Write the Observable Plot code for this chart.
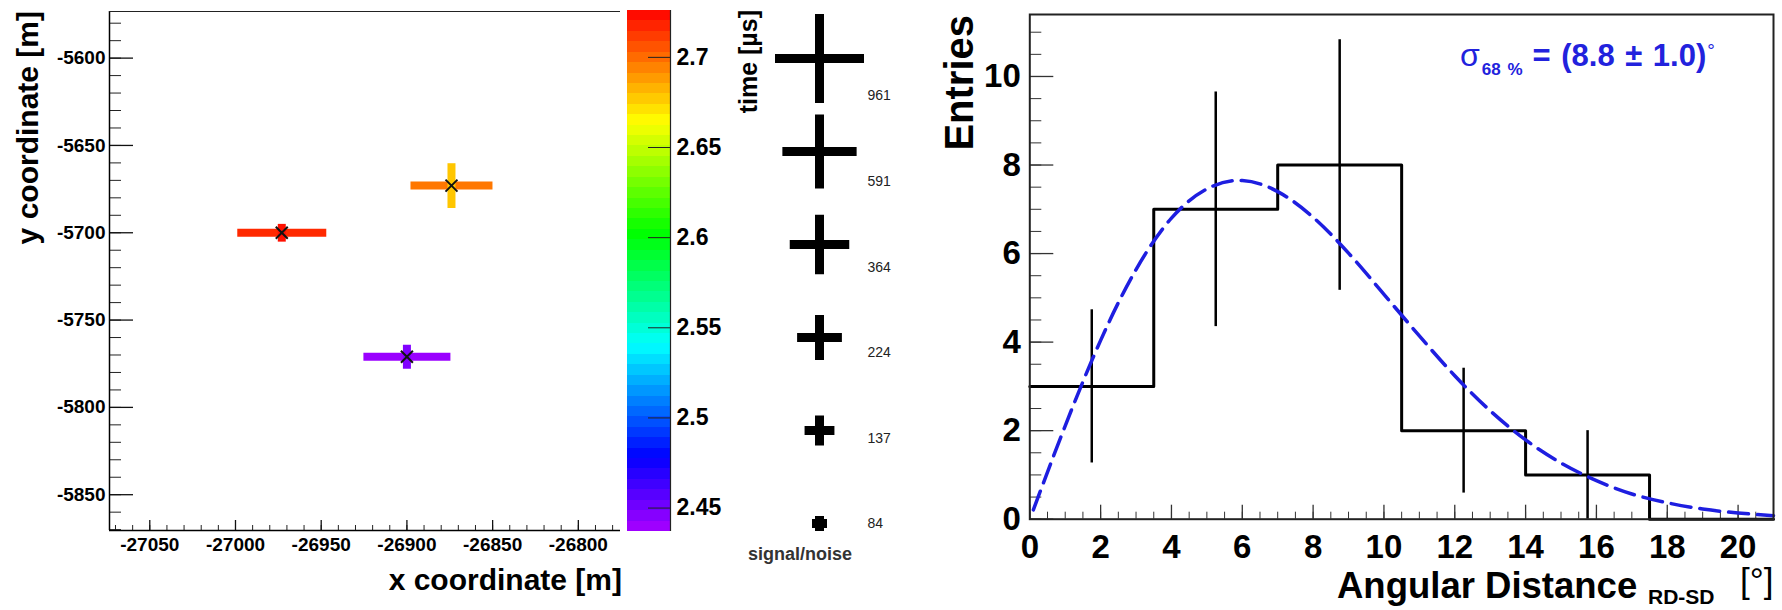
<!DOCTYPE html>
<html>
<head>
<meta charset="utf-8">
<script src="https://cdn.jsdelivr.net/npm/d3@7"></script>
<script src="https://cdn.jsdelivr.net/npm/@observablehq/plot@0.6"></script>
<style>
  html, body { margin: 0; padding: 0; background: #fff; }
  #chart { position: relative; width: 1782px; height: 610px; overflow: hidden; background: #fff;
           font-family: "Liberation Sans", Arial, Helvetica, sans-serif; }
  #chart svg { position: absolute; }
  .lbl { position: absolute; white-space: nowrap; line-height: 0.7; font-weight: bold; color: #000; }
</style>
</head>
<body>
<div id="chart"></div>
<script>
// ---------- radio stations on the ground (one entry per station) ----------
const stationX = [-26973, -26874, -26900];
const stationY = [-5700, -5673, -5771];
const ewSignalNoise = [961, 763, 900];   // east-west arm
const nsSignalNoise = [92, 224, 113];    // north-south arm
const ewTime = [2.716, 2.697, 2.441];    // µs
const nsTime = [2.722, 2.678, 2.447];

const mapXTicks = [-27050, -27000, -26950, -26900, -26850, -26800];
const mapYTicks = [-5850, -5800, -5750, -5700, -5650, -5600];
const timeTicks = [2.45, 2.5, 2.55, 2.6, 2.65, 2.7];
const legendSignalNoise = [961, 591, 364, 224, 137, 84];

// ---------- angular distance between RD and SD directions ----------
const binEdges = [0, 3.5, 7, 10.5, 14, 17.5, 21];
const binCounts = [3, 7, 8, 2, 1, 0];
const binErrors = [1.73, 2.65, 2.83, 1.41, 1.0, 0];
const fitX = [0.1, 1, 2, 3, 4, 5, 6, 7, 8, 9, 10, 11, 12, 13, 14, 15, 16, 17, 18, 19, 20, 21];
const fitY = [0.21, 2.11, 4.04, 5.64, 6.80, 7.46, 7.65, 7.40, 6.82, 6.01, 5.08, 4.14, 3.24, 2.45, 1.79, 1.27, 0.87, 0.57, 0.37, 0.23, 0.14, 0.08];
const histXTicks = [0, 2, 4, 6, 8, 10, 12, 14, 16, 18, 20];
const histYTicks = [0, 2, 4, 6, 8, 10];

// ---------- shared scales ----------
const mapXDomain = [-27073.5, -26775.4];
const mapYDomain = [-5870.5, -5573.3];
const timeDomain = [2.437, 2.726];
const histXDomain = [0, 21];
const histYDomain = [0, 11.4];
const rainbow = t => d3.hsl(280 * (1 - t), 1, 0.5).formatRgb();
const colorOpts = {type: "linear", domain: timeDomain, interpolate: rainbow};
const rOpts = {type: "log", domain: [84, 961], range: [7.5, 44.5]};
const FONT = '"Liberation Sans", Arial, Helvetica, sans-serif';
const svgStyle = {background: "transparent", maxWidth: "none", overflow: "visible", fontFamily: FONT};
const fmt = d => String(d);

// symbols: constant-thickness arms whose half-length is the dot radius
const armEW = {draw(ctx, size) { const r = Math.sqrt(size / Math.PI); ctx.moveTo(-r, 0); ctx.lineTo(r, 0); }};
const armNS = {draw(ctx, size) { const r = Math.sqrt(size / Math.PI); ctx.moveTo(0, -r); ctx.lineTo(0, r); }};
const armBoth = {draw(ctx, size) { armEW.draw(ctx, size); armNS.draw(ctx, size); }};

const chart = document.getElementById("chart");
function place(svg, left, top) {
  svg.style.left = left + "px";
  svg.style.top = top + "px";
  chart.appendChild(svg);
}
function addText(html, css) {
  const d = document.createElement("div");
  d.className = "lbl";
  d.innerHTML = html;
  Object.assign(d.style, css);
  chart.appendChild(d);
  return d;
}
// baseline -> top of a line-height 0.7 box
const topFor = (baseline, size) => (baseline - 0.6965 * size) + "px";
const rotated = (centerX, endY, size) => ({left: centerX + "px", top: endY + "px", fontSize: size + "px", lineHeight: "1",
  transformOrigin: "0 0", transform: "rotate(-90deg) translate(-100%, -50%)"});

// ---------- station map ----------
const stations = stationX.map((x, i) => ({x, y: stationY[i], ew: ewSignalNoise[i], ns: nsSignalNoise[i], ewTime: ewTime[i], nsTime: nsTime[i]}));
{
  const W = 640, H = 610, mL = 109, mR = 20, mT = 11, mB = 80;
  const fw = W - mL - mR, fh = H - mT - mB;
  const svg = Plot.plot({
    width: W, height: H, marginLeft: mL, marginRight: mR, marginTop: mT, marginBottom: mB,
    x: {domain: mapXDomain, axis: null}, y: {domain: mapYDomain, axis: null},
    color: colorOpts, r: rOpts, style: svgStyle,
    marks: [
      Plot.tickY(d3.range(-5870, mapYDomain[1], 10), {y: d => d, insetRight: fw - 12, stroke: "#222"}),
      Plot.tickY(mapYTicks, {y: d => d, insetRight: fw - 24, stroke: "#111", strokeWidth: 1.3}),
      Plot.tickX(d3.range(-27070, mapXDomain[1], 10), {x: d => d, insetTop: fh - 5, stroke: "#222"}),
      Plot.tickX(mapXTicks, {x: d => d, insetTop: fh - 10, stroke: "#111", strokeWidth: 1.3}),
      Plot.ruleX([mapXDomain[0]], {stroke: "#000", strokeWidth: 1.5}),
      Plot.ruleY([mapYDomain[0]], {stroke: "#000", strokeWidth: 1.5}),
      Plot.ruleY([mapYDomain[1]], {stroke: "#222", strokeWidth: 1}),
      Plot.dot(stations, {x: "x", y: "y", r: "ew", symbol: armEW, stroke: "ewTime", fill: "none", strokeWidth: 8}),
      Plot.dot(stations, {x: "x", y: "y", r: "ns", symbol: armNS, stroke: "nsTime", fill: "none", strokeWidth: 8}),
      Plot.dot(stations, {x: "x", y: "y", r: 5.5, symbol: "times", stroke: "#111", strokeWidth: 2}),
      Plot.text(mapXTicks, {x: d => d, text: fmt, frameAnchor: "bottom", lineAnchor: "top", dy: 7,
        fontSize: 19, fontWeight: "bold", fill: "#000"}),
      Plot.text(mapYTicks, {y: d => d, text: fmt, frameAnchor: "left", textAnchor: "end", dx: -4,
        fontSize: 19, fontWeight: "bold", fill: "#000"})
    ]
  });
  place(svg, 0, 0);
}

// ---------- time colour bar ----------
{
  const W = 140, H = 610, mL = 27, mR = 70, mT = 10, mB = 79;
  const fw = W - mL - mR;
  const nBands = 50;
  const step = (timeDomain[1] - timeDomain[0]) / nBands;
  const bands = d3.range(nBands).map(i => ({t0: timeDomain[0] + i * step, t1: timeDomain[0] + (i + 1) * step}));
  const svg = Plot.plot({
    width: W, height: H, marginLeft: mL, marginRight: mR, marginTop: mT, marginBottom: mB,
    x: {domain: [0, 1], axis: null}, y: {domain: timeDomain, axis: null},
    color: colorOpts, style: svgStyle,
    marks: [
      Plot.rect(bands, {x1: () => 0, x2: () => 1, y1: "t0", y2: "t1", fill: d => (d.t0 + d.t1) / 2, shapeRendering: "crispEdges"}),
      Plot.ruleX([1], {stroke: "#222", strokeWidth: 1.2}),
      Plot.tickY(timeTicks, {y: d => d, insetLeft: fw - 22, stroke: "#222", strokeWidth: 1}),
      Plot.text(timeTicks, {y: d => d, text: fmt, frameAnchor: "right", textAnchor: "start", dx: 6,
        fontSize: 23, fontWeight: "bold", fill: "#000"})
    ]
  });
  place(svg, 600, 0);
}

// ---------- signal/noise legend ----------
{
  const rScale = Plot.scale({r: rOpts});
  const svg = Plot.plot({
    width: 240, height: 610, marginLeft: 0, marginRight: 2, marginTop: 55.6, marginBottom: 85.5,
    y: {type: "point", domain: legendSignalNoise, padding: 0, axis: null},
    r: rOpts, style: svgStyle,
    marks: [
      Plot.dot(legendSignalNoise, {y: d => d, r: d => d, symbol: armBoth, stroke: "#000", fill: "none", strokeWidth: 9}),
      ...legendSignalNoise.map(sn => Plot.text([sn], {y: d => d, text: fmt, textAnchor: "start",
        dx: 48, dy: rScale.apply(sn) - 7, fontSize: 14, fill: "#222"}))
    ]
  });
  place(svg, 700, 0);
}

// ---------- angular distance histogram ----------
{
  const W = 842, H = 610, mL = 89.3, mR = 9, mT = 14, mB = 91.3;
  const fw = W - mL - mR, fh = H - mT - mB;
  const steps = binCounts.map((c, i) => ({x: binEdges[i], y: c}));
  steps.push({x: binEdges[binEdges.length - 1], y: binCounts[binCounts.length - 1]});
  const errs = binCounts.map((c, i) => ({x: (binEdges[i] + binEdges[i + 1]) / 2, lo: c - binErrors[i], hi: c + binErrors[i], c}))
    .filter(d => d.c > 0);
  const fit = fitX.map((x, i) => ({x, y: fitY[i]}));
  const svg = Plot.plot({
    width: W, height: H, marginLeft: mL, marginRight: mR, marginTop: mT, marginBottom: mB,
    x: {domain: histXDomain, axis: null}, y: {domain: histYDomain, axis: null}, style: svgStyle,
    marks: [
      Plot.tickY(d3.range(0, histYDomain[1], 0.5), {y: d => d, insetRight: fw - 12, stroke: "#333"}),
      Plot.tickY(histYTicks, {y: d => d, insetRight: fw - 24, stroke: "#333", strokeWidth: 1.3}),
      Plot.tickX(d3.range(0, histXDomain[1] + 0.01, 0.5), {x: d => d, insetTop: fh - 7, stroke: "#333"}),
      Plot.tickX(histXTicks, {x: d => d, insetTop: fh - 14, stroke: "#333", strokeWidth: 1.3}),
      Plot.line(steps, {x: "x", y: "y", curve: "step-after", stroke: "#000", strokeWidth: 3}),
      Plot.ruleX(errs, {x: "x", y1: "lo", y2: "hi", stroke: "#000", strokeWidth: 2.5}),
      Plot.line(fit, {x: "x", y: "y", curve: "natural", stroke: "#1e1ee0", strokeWidth: 3.5, strokeDasharray: "20,9"}),
      Plot.frame({stroke: "#222", strokeWidth: 2}),
      Plot.text(histXTicks, {x: d => d, text: fmt, frameAnchor: "bottom", lineAnchor: "top", dy: 15,
        fontSize: 33, fontWeight: "bold", fill: "#000"}),
      Plot.text(histYTicks, {y: d => d, text: fmt, frameAnchor: "left", textAnchor: "end", dx: -9,
        fontSize: 33, fontWeight: "bold", fill: "#000"})
    ]
  });
  place(svg, 940, 0);
}

// ---------- titles ----------
addText("y coordinate [m]", rotated(28, 11, 30));
addText("x coordinate [m]", {right: (1782 - 622) + "px", top: topFor(590, 30), fontSize: "30px"});
addText("time [&micro;s]", rotated(748, 10, 25));
addText("signal/noise", {left: "800px", top: topFor(561, 18), fontSize: "18px", color: "#333", transform: "translateX(-50%)"});
addText("Entries", rotated(959, 15, 40));
addText("Angular Distance", {left: "1337px", top: topFor(598, 36.5), fontSize: "36.5px"});
addText("RD-SD", {left: "1648px", top: topFor(605, 21), fontSize: "21px"});
addText("[&deg;]", {left: "1740px", top: topFor(593, 35), fontSize: "35px", fontWeight: "normal"});
addText('<span style="font-weight:normal;font-size:32px">&sigma;</span><span style="font-size:17px;position:relative;top:9px;margin:0 10px 0 2px">68 %</span>= (8.8 &plusmn; 1.0)<span style="position:relative;top:-9px;font-size:19px;font-weight:normal;margin-left:1px">&deg;</span>',
  {left: "1460px", top: topFor(66, 31), fontSize: "31px", color: "#2222dd", wordSpacing: "2px"});
</script>
</body>
</html>
